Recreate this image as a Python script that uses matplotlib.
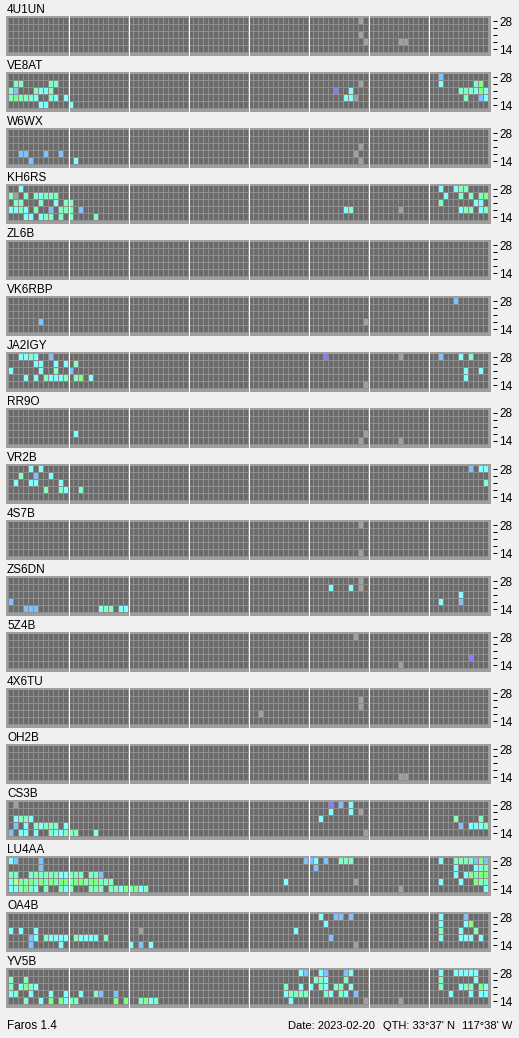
import matplotlib
matplotlib.use("Agg")
import matplotlib.pyplot as plt
from matplotlib.patches import Rectangle
from matplotlib.collections import PatchCollection

W, H = 519, 1038

# beacon callsigns, top to bottom
stations = ["4U1UN", "VE8AT", "W6WX", "KH6RS", "ZL6B", "VK6RBP", "JA2IGY", "RR9O", "VR2B",
            "4S7B", "ZS6DN", "5Z4B", "4X6TU", "OH2B", "CS3B", "LU4AA", "OA4B", "YV5B"]
bands = [28, 24, 21, 18, 14]   # MHz, top row first
n_slots = 96                   # 15 minute slots over the day

# spots: (slot, band MHz, level)  level 0 = no data, 1..6 = signal level
spots_4U1UN = [(70, 28, 0), (70, 21, 0), (71, 18, 0), (78, 18, 0), (79, 18, 0)]
spots_VE8AT = [(86, 28, 2),
               (1, 24, 4), (2, 24, 4), (8, 24, 4), (9, 24, 4), (70, 24, 0), (86, 24, 3), (93, 24, 4), (94, 24, 5),
               (0, 21, 4), (1, 21, 2), (5, 21, 4), (6, 21, 3), (7, 21, 3), (8, 21, 4), (65, 21, 1), (68, 21, 3),
               (90, 21, 4), (91, 21, 4), (92, 21, 4), (93, 21, 3), (94, 21, 5), (95, 21, 3),
               (0, 18, 4), (1, 18, 5), (2, 18, 4), (3, 18, 4), (4, 18, 4), (5, 18, 3), (8, 18, 4), (9, 18, 3),
               (11, 18, 3), (67, 18, 3), (68, 18, 3), (69, 18, 0), (91, 18, 4), (94, 18, 2), (95, 18, 3),
               (6, 14, 3), (7, 14, 3), (12, 14, 3)]
spots_W6WX = [(70, 21, 0), (2, 18, 2), (3, 18, 2), (7, 18, 2), (10, 18, 2), (69, 18, 0),
              (4, 14, 2), (13, 14, 3), (70, 14, 0)]
spots_KH6RS = [(2, 28, 3), (86, 28, 3), (89, 28, 3), (90, 28, 4), (91, 28, 4),
               (0, 24, 4), (1, 24, 0), (3, 24, 4), (5, 24, 4), (6, 24, 3), (7, 24, 4), (8, 24, 4), (9, 24, 4),
               (87, 24, 3), (90, 24, 4), (92, 24, 4), (94, 24, 4), (95, 24, 5),
               (1, 21, 4), (2, 21, 4), (6, 21, 4), (9, 21, 3), (11, 21, 4), (12, 21, 4), (86, 21, 4),
               (93, 21, 3), (94, 21, 3),
               (0, 18, 3), (1, 18, 3), (2, 18, 4), (3, 18, 3), (5, 18, 4), (8, 18, 2), (10, 18, 4), (11, 18, 4),
               (12, 18, 4), (14, 18, 2), (67, 18, 3), (68, 18, 4), (78, 18, 0), (90, 18, 3), (91, 18, 4),
               (92, 18, 4), (94, 18, 3), (95, 18, 4),
               (3, 14, 3), (4, 14, 3), (6, 14, 3), (7, 14, 4), (8, 14, 4), (10, 14, 4), (12, 14, 4), (17, 14, 4)]
spots_ZL6B = []
spots_VK6RBP = [(89, 28, 2), (6, 18, 2), (71, 18, 0)]
spots_JA2IGY = [(2, 28, 3), (3, 28, 3), (4, 28, 4), (5, 28, 3), (8, 28, 2), (63, 28, 1), (78, 28, 0),
                (86, 28, 2), (90, 28, 3), (92, 28, 4),
                (5, 24, 3), (6, 24, 3), (9, 24, 3), (11, 24, 3), (13, 24, 4),
                (0, 21, 3), (6, 21, 3), (9, 21, 4), (12, 21, 2), (91, 21, 3), (94, 21, 3),
                (3, 18, 3), (5, 18, 3), (7, 18, 4), (8, 18, 3), (9, 18, 3), (10, 18, 3), (11, 18, 4),
                (13, 18, 4), (14, 18, 5), (16, 18, 3), (91, 18, 3),
                (71, 14, 0)]
spots_RR9O = [(13, 18, 3), (71, 18, 0), (70, 14, 0), (78, 14, 0)]
spots_VR2B = [(4, 28, 3), (6, 28, 3), (92, 28, 2), (94, 28, 3), (95, 28, 3),
              (2, 24, 4), (5, 24, 2), (8, 24, 3),
              (1, 21, 3), (4, 21, 3), (5, 21, 3), (10, 21, 3), (95, 21, 4),
              (7, 18, 4), (10, 18, 4), (11, 18, 3), (14, 18, 4)]
spots_4S7B = [(70, 28, 0), (70, 14, 0)]
spots_ZS6DN = [(70, 28, 0), (64, 24, 3), (68, 24, 3), (70, 24, 0), (90, 21, 3),
               (0, 18, 2), (86, 18, 3), (90, 18, 2),
               (3, 14, 2), (4, 14, 2), (5, 14, 2), (18, 14, 3), (19, 14, 4), (20, 14, 4), (22, 14, 3), (23, 14, 3)]
spots_5Z4B = [(69, 28, 0), (92, 18, 1), (78, 14, 0)]
spots_4X6TU = [(70, 24, 0), (70, 21, 0), (50, 18, 0)]
spots_OH2B = [(78, 14, 0), (79, 14, 0)]
spots_CS3B = [(1, 28, 0), (64, 28, 1), (66, 28, 2), (68, 28, 3),
              (64, 24, 3), (68, 24, 3), (70, 24, 0),
              (1, 21, 3), (2, 21, 4), (3, 21, 4), (4, 21, 3), (62, 21, 3), (89, 21, 4), (94, 21, 4),
              (1, 18, 2), (3, 18, 3), (5, 18, 4), (6, 18, 3), (7, 18, 4), (8, 18, 4), (9, 18, 4), (11, 18, 3),
              (90, 18, 2), (92, 18, 3), (93, 18, 3), (94, 18, 3), (95, 18, 4),
              (0, 14, 2), (2, 14, 3), (3, 14, 3), (5, 14, 3), (8, 14, 4), (9, 14, 3), (10, 14, 3), (11, 14, 4),
              (12, 14, 4), (13, 14, 4), (17, 14, 3), (71, 14, 0)]
spots_LU4AA = [(0, 28, 3), (1, 28, 2), (6, 28, 2), (59, 28, 2), (60, 28, 2), (61, 28, 3), (63, 28, 2),
               (66, 28, 4), (67, 28, 4), (68, 28, 4), (86, 28, 3), (89, 28, 4), (90, 28, 4), (91, 28, 4),
               (92, 28, 4), (93, 28, 2), (94, 28, 5), (95, 28, 2),
               (6, 24, 2), (61, 24, 2), (89, 24, 3), (93, 24, 3), (94, 24, 4), (95, 24, 4),
               (0, 21, 4), (1, 21, 4), (4, 21, 4), (5, 21, 4), (6, 21, 4), (7, 21, 4), (8, 21, 4), (9, 21, 4),
               (10, 21, 3), (11, 21, 3), (12, 21, 4), (13, 21, 4), (14, 21, 4), (16, 21, 4), (17, 21, 4),
               (18, 21, 2), (89, 21, 3), (91, 21, 3), (92, 21, 5), (93, 21, 4), (94, 21, 5), (95, 21, 5),
               (0, 18, 3), (1, 18, 6), (2, 18, 5), (3, 18, 4), (4, 18, 5), (5, 18, 4), (6, 18, 5), (7, 18, 4),
               (8, 18, 5), (9, 18, 4), (10, 18, 5), (11, 18, 5), (12, 18, 4), (13, 18, 5), (14, 18, 5),
               (15, 18, 4), (16, 18, 5), (17, 18, 5), (18, 18, 4), (19, 18, 4), (20, 18, 4), (55, 18, 3),
               (69, 18, 0), (86, 18, 3), (90, 18, 3), (93, 18, 5), (94, 18, 4), (95, 18, 4),
               (0, 14, 3), (1, 14, 3), (2, 14, 4), (3, 14, 5), (4, 14, 4), (5, 14, 3), (7, 14, 4), (10, 14, 4),
               (11, 14, 3), (12, 14, 4), (16, 14, 4), (17, 14, 4), (18, 14, 4), (20, 14, 4), (21, 14, 4),
               (22, 14, 3), (23, 14, 5), (24, 14, 4), (25, 14, 5), (26, 14, 3), (27, 14, 4), (78, 14, 0),
               (95, 14, 3)]
spots_OA4B = [(62, 28, 3), (65, 28, 2), (66, 28, 2), (68, 28, 2), (86, 28, 3), (91, 28, 2),
              (63, 24, 3), (86, 24, 3), (91, 24, 3), (92, 24, 5),
              (0, 21, 3), (2, 21, 3), (5, 21, 3), (26, 21, 0), (57, 21, 3), (86, 21, 4), (90, 21, 3), (93, 21, 4),
              (4, 18, 2), (5, 18, 3), (7, 18, 4), (8, 18, 3), (9, 18, 3), (10, 18, 3), (11, 18, 3), (13, 18, 4),
              (14, 18, 3), (15, 18, 3), (16, 18, 3), (17, 18, 3), (19, 18, 4), (64, 18, 2), (86, 18, 3),
              (90, 18, 3), (91, 18, 3), (92, 18, 3), (94, 18, 3),
              (4, 14, 2), (10, 14, 3), (24, 14, 3), (26, 14, 2), (28, 14, 3), (69, 14, 0)]
spots_YV5B = [(58, 28, 3), (59, 28, 2), (62, 28, 3), (63, 28, 2), (67, 28, 2), (68, 28, 3), (86, 28, 3),
              (89, 28, 3), (90, 28, 3), (91, 28, 3), (92, 28, 3), (93, 28, 3),
              (0, 24, 4), (3, 24, 4), (61, 24, 4), (62, 24, 4), (63, 24, 3), (67, 24, 4), (86, 24, 4), (93, 24, 3),
              (0, 21, 4), (2, 21, 3), (3, 21, 5), (4, 21, 4), (5, 21, 3), (55, 21, 4), (58, 21, 3), (60, 21, 3),
              (62, 21, 4), (63, 21, 3), (65, 21, 4), (66, 21, 4), (68, 21, 3), (86, 21, 4), (90, 21, 3),
              (91, 21, 4), (92, 21, 4), (94, 21, 5), (95, 21, 3),
              (0, 18, 3), (1, 18, 4), (4, 18, 3), (8, 18, 3), (11, 18, 3), (14, 18, 3), (17, 18, 4), (18, 18, 2),
              (21, 18, 2), (55, 18, 3), (56, 18, 4), (57, 18, 4), (58, 18, 4), (59, 18, 4), (63, 18, 4),
              (64, 18, 3), (66, 18, 4), (67, 18, 3), (69, 18, 2), (88, 18, 3), (92, 18, 3), (94, 18, 3),
              (95, 18, 3),
              (3, 14, 4), (6, 14, 3), (8, 14, 5), (10, 14, 5), (11, 14, 3), (12, 14, 4), (13, 14, 4), (21, 14, 5),
              (23, 14, 5), (26, 14, 4), (27, 14, 5), (28, 14, 3), (29, 14, 4), (56, 14, 3), (71, 14, 0),
              (78, 14, 0)]

all_spots = [spots_4U1UN, spots_VE8AT, spots_W6WX, spots_KH6RS, spots_ZL6B, spots_VK6RBP,
             spots_JA2IGY, spots_RR9O, spots_VR2B, spots_4S7B, spots_ZS6DN, spots_5Z4B,
             spots_4X6TU, spots_OH2B, spots_CS3B, spots_LU4AA, spots_OA4B, spots_YV5B]

version = "Faros 1.4"
date = "2023-02-20"
qth_lat = "33°37' N"
qth_lon = "117°38' W"

# colours
bg = "#f0f0f0"
frame = "#9e9e9e"
gap = "#8f8f8f"
empty = "#6b6b6b"
level_colors = {0: "#a0a0a0", 1: "#8080ff", 2: "#80c0ff", 3: "#80ffff",
                4: "#80ffc0", 5: "#80ff80", 6: "#c0ff80"}

plt.rcParams['font.family'] = ['Liberation Sans', 'DejaVu Sans']

fig = plt.figure(figsize=(W / 100, H / 100), dpi=100, facecolor=bg)

for i, (name, spots) in enumerate(zip(stations, all_spots)):
    top = 16 + 56 * i
    ax = fig.add_axes([6 / W, 1 - (top + 40) / H, 485 / W, 40 / H])
    ax.set_facecolor(frame)
    ax.set_xlim(-0.4, n_slots + 0.6)
    ax.set_ylim(5 + 3 / 7, -2 / 7)

    lookup = {(s, b): lvl for s, b, lvl in spots}
    rects, colors = [], []
    for r, band in enumerate(bands):
        for s in range(n_slots):
            rects.append(Rectangle((s + 0.2, r), 0.8, 6 / 7))
            lvl = lookup.get((s, band))
            colors.append(empty if lvl is None else level_colors[lvl])

    ax.add_patch(Rectangle((0, 0), n_slots, 5, facecolor=gap, lw=0, antialiased=False))
    ax.add_collection(PatchCollection(rects, facecolors=colors, edgecolors='none',
                                      linewidths=0, antialiased=False))
    # white line every 3 hours
    for k in range(12, n_slots, 12):
        ax.axvline(k + 0.1, color='white', lw=0.72, antialiased=False)

    ax.set_xticks([])
    ax.set_yticks([r + 3 / 7 for r in range(len(bands))])
    ax.set_yticklabels([str(bands[0]), "", "", "", str(bands[-1])])
    ax.yaxis.tick_right()
    ax.tick_params(axis='y', length=3, width=0.75, pad=1.5, labelsize=8.5, colors='black')
    for sp in ax.spines.values():
        sp.set_visible(False)
    ax.spines['right'].set_position(('outward', 1.5))

    fig.text(7 / W, 1 - (13 + 56 * i) / H, name, fontsize=8.5, va='baseline')

yb = 1 - 1029 / H
fig.text(7 / W, yb, version, fontsize=8.5, va='baseline')
fig.text(375 / W, yb, "Date: " + date, fontsize=8, va='baseline', ha='right')
fig.text(455 / W, yb, "QTH: " + qth_lat, fontsize=8, va='baseline', ha='right')
fig.text(512 / W, yb, qth_lon, fontsize=8, va='baseline', ha='right')

fig.savefig("out.png", dpi=100, facecolor=bg)
